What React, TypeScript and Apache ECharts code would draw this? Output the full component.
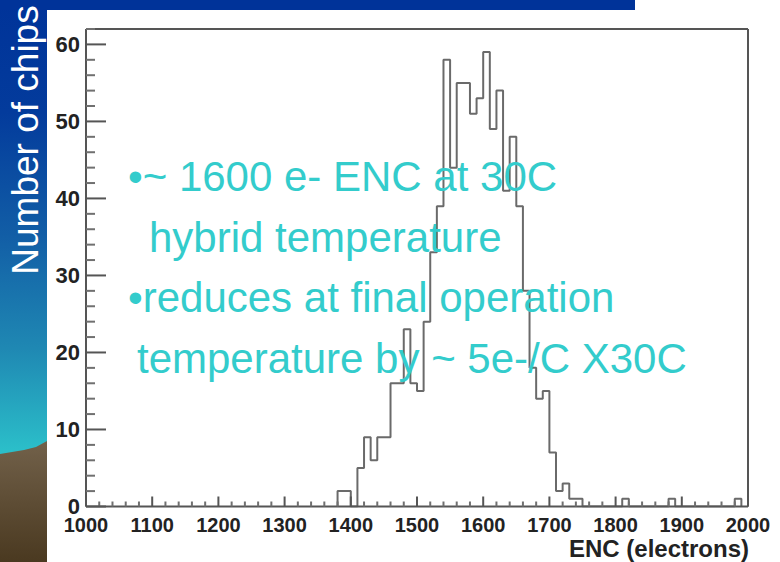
import React, { useEffect, useRef } from "react";
import * as echarts from "echarts";

// Histogram of chip noise: lower bin edge (electrons) and number of chips per 10 e- bin
const binLowEdges = [
  1380, 1390, 1400, 1410, 1420, 1430, 1440, 1450, 1460, 1470,
  1480, 1490, 1500, 1510, 1520, 1530, 1540, 1550, 1560, 1570,
  1580, 1590, 1600, 1610, 1620, 1630, 1640, 1650, 1660, 1670,
  1680, 1690, 1700, 1710, 1720, 1730, 1740, 1810, 1880, 1980,
];
const chipCounts = [
  2, 2, 0, 5, 9, 6, 9, 9, 16, 16,
  23, 16, 15, 24, 33, 39, 58, 44, 55, 55,
  51, 53, 59, 49, 54, 41, 48, 39, 28, 18,
  14, 15, 7, 2, 3, 1, 1, 1, 1, 1,
];
const binWidth = 10;

const xTicks = [1000, 1100, 1200, 1300, 1400, 1500, 1600, 1700, 1800, 1900, 2000];
const yTicks = [0, 10, 20, 30, 40, 50, 60];
const xMinorStep = 20;
const yMinorStep = 2;
const yMax = 62;

const noteLines = [
  "•~ 1600 e- ENC at 30C",
  "hybrid temperature",
  "•reduces at final operation",
  "temperature by ~ 5e-/C X30C",
];
const noteIndent = [128, 149, 128, 137];

const yTitle = "Number of chips";
const xTitle = "ENC (electrons)";

// Step outline of the histogram, built from the bins
function buildOutline(): number[][] {
  const pts: number[][] = [];
  let prevEnd: number | null = null;
  binLowEdges.forEach((lo, i) => {
    const c = chipCounts[i];
    if (prevEnd === null) pts.push([lo, 0]);
    else if (prevEnd !== lo) {
      pts.push([prevEnd, 0]);
      pts.push([lo, 0]);
    }
    pts.push([lo, c]);
    pts.push([lo + binWidth, c]);
    prevEnd = lo + binWidth;
  });
  if (prevEnd !== null) pts.push([prevEnd, 0]);
  return pts;
}

const AXIS = "#555555";
const MINOR = "#707070";
const LABEL = "#222222";
const NOTE = "#33cccc";
const FONT = "Liberation Sans, Arial, sans-serif";

export default function App() {
  const ref = useRef<HTMLDivElement>(null);

  useEffect(() => {
    if (!ref.current) return;
    const chart = echarts.init(ref.current, undefined, { renderer: "svg" });

    const labelFont = { fontFamily: FONT, fontWeight: "bold" as const, color: LABEL };
    const xMin = xTicks[0];
    const xMax = xTicks[xTicks.length - 1];

    const option: any = {
      animation: false,
      backgroundColor: "#ffffff",
      grid: { left: 86, right: 32, top: 29, bottom: 55.5 },
      xAxis: {
        type: "value",
        min: xMin,
        max: xMax,
        interval: 100,
        axisLine: { show: false },
        axisTick: { show: false },
        splitLine: { show: false },
        axisLabel: { ...labelFont, fontSize: 20, margin: 8, formatter: (v: number) => String(v) },
      },
      yAxis: {
        type: "value",
        min: 0,
        max: yMax,
        interval: yMinorStep,
        axisLine: { show: false },
        axisTick: { show: false },
        splitLine: { show: false },
        axisLabel: {
          ...labelFont,
          fontSize: 22,
          margin: 6,
          showMaxLabel: false,
          formatter: (v: number) => (yTicks.indexOf(v) >= 0 ? String(v) : ""),
        },
      },
      series: [
        {
          type: "line",
          data: buildOutline(),
          symbol: "none",
          showSymbol: false,
          lineStyle: { color: "#6a6a6a", width: 2 },
        },
      ],
    };
    chart.setOption(option);

    const px = (x: number, y: number) => chart.convertToPixel({ gridIndex: 0 }, [x, y]) as number[];
    const tl = px(xMin, yMax);
    const br = px(xMax, 0);

    // frame and inward tick marks
    const frameAndTicks: any[] = [];
    const seg = (x1: number, y1: number, x2: number, y2: number, stroke: string, w: number) =>
      frameAndTicks.push({
        type: "line",
        z: 50,
        silent: true,
        shape: { x1, y1, x2, y2 },
        style: { stroke, lineWidth: w },
      });

    seg(tl[0], tl[1], br[0], tl[1], AXIS, 2);
    seg(br[0], tl[1], br[0], br[1], AXIS, 2);
    seg(tl[0], br[1], br[0], br[1], AXIS, 2);
    seg(tl[0], tl[1], tl[0], br[1], AXIS, 2);

    for (let v = xMin; v <= xMax; v += xMinorStep) {
      const p = px(v, 0);
      const major = xTicks.indexOf(v) >= 0;
      seg(p[0], p[1], p[0], p[1] - (major ? 10 : 5), major ? AXIS : MINOR, 2);
    }
    for (let v = 0; v <= yMax; v += yMinorStep) {
      const p = px(xMin, v);
      const major = yTicks.indexOf(v) >= 0;
      seg(p[0], p[1], p[0] + (major ? 20 : 9), p[1], major ? AXIS : MINOR, 2);
    }

    chart.setOption({
      graphic: [
        ...frameAndTicks,
        // slide side strip
        {
          type: "rect",
          z: 1,
          shape: { x: 0, y: 0, width: 47, height: 562 },
          style: {
            fill: {
              type: "linear",
              x: 0,
              y: 0,
              x2: 0,
              y2: 1,
              colorStops: [
                { offset: 0, color: "#003399" },
                { offset: 0.2, color: "#033b9c" },
                { offset: 0.42, color: "#125ea6" },
                { offset: 0.62, color: "#1f88b3" },
                { offset: 0.8, color: "#2bbec9" },
                { offset: 1, color: "#2ec4cc" },
              ],
            },
          },
        },
        {
          type: "polygon",
          z: 2,
          shape: {
            points: [
              [0, 454],
              [12, 452],
              [24, 450],
              [36, 447],
              [47, 441],
              [47, 562],
              [0, 562],
            ],
          },
          style: {
            fill: {
              type: "linear",
              x: 0,
              y: 0,
              x2: 0,
              y2: 1,
              colorStops: [
                { offset: 0, color: "#72614a" },
                { offset: 1, color: "#4a3920" },
              ],
            },
          },
        },
        // top band
        {
          type: "rect",
          z: 1,
          shape: { x: 0, y: 0, width: 635, height: 10 },
          style: { fill: "#003399" },
        },
        {
          type: "text",
          z: 5,
          x: 25,
          y: 140,
          rotation: Math.PI / 2,
          style: {
            text: yTitle,
            fill: "#ffffff",
            font: `37px ${FONT}`,
            textAlign: "center",
            textVerticalAlign: "middle",
          },
        },
        {
          type: "text",
          z: 5,
          x: 749,
          y: 548,
          style: {
            text: xTitle,
            fill: LABEL,
            font: `bold 24px ${FONT}`,
            textAlign: "right",
            textVerticalAlign: "middle",
          },
        },
        ...noteLines.map((t, i) => ({
          type: "text",
          z: 100,
          x: noteIndent[i],
          y: 176.5 + i * 60.5,
          style: {
            text: t,
            fill: NOTE,
            font: `42px ${FONT}`,
            textAlign: "left",
            textVerticalAlign: "middle",
          },
        })),
      ],
    });

    return () => chart.dispose();
  }, []);

  return (
    <div ref={ref} style={{ position: "absolute", left: 0, top: 0, width: 780, height: 562 }} />
  );
}
